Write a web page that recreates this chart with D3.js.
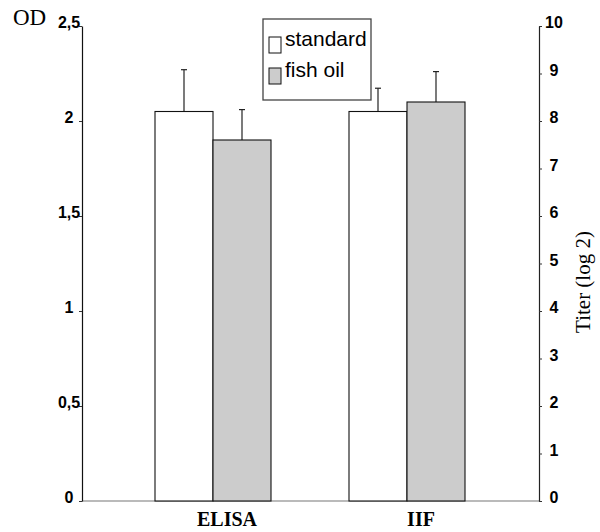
<!DOCTYPE html>
<html>
<head>
<meta charset="utf-8">
<script src="https://cdn.jsdelivr.net/npm/d3@7"></script>
<style>
  html, body { margin: 0; padding: 0; background: #fff; }
  svg { display: block; }
  .tk { font-family: "Liberation Sans", Arial, sans-serif; font-weight: bold; font-size: 16px; fill: #000; }
</style>
</head>
<body>
<script>
// ---- data ----
const categories = ["ELISA", "IIF"];
const seriesNames = ["standard", "fish oil"];
const seriesColors = ["#ffffff", "#cccccc"];
// ELISA read on left axis (OD), IIF read on right axis (Titer log 2)
const standardValues = [2.05, 8.2];
const fishOilValues = [1.90, 8.4];
const standardErrors = [0.22, 0.49];
const fishOilErrors = [0.16, 0.64];
const leftTickValues = [0, 0.5, 1, 1.5, 2, 2.5];
const leftTickLabels = ["0", "0,5", "1", "1,5", "2", "2,5"];
const rightTickValues = [0, 1, 2, 3, 4, 5, 6, 7, 8, 9, 10];
const rightTickLabels = ["0", "1", "2", "3", "4", "5", "6", "7", "8", "9", "10"];

const W = 600, H = 532;
const pL = 82, pR = 539, pT = 26, pB = 501;

const svg = d3.select("body").append("svg").attr("width", W).attr("height", H);

const yL = d3.scaleLinear().domain([0, 2.5]).range([pB, pT]);
const yR = d3.scaleLinear().domain([0, 10]).range([pB, pT]);
const xC = d3.scalePoint().domain(categories).range([213, 407]);
const xS = d3.scaleBand().domain(seriesNames).range([-58, 58]);

// bottom line
svg.append("line").attr("x1", pL).attr("x2", pR).attr("y1", pB).attr("y2", pB)
  .attr("stroke", "#777").attr("stroke-width", 1.2);

// bars
const rows = [];
categories.forEach((c, i) => {
  const sc = i === 0 ? yL : yR;
  rows.push({ cat: c, s: seriesNames[0], v: standardValues[i], e: standardErrors[i], sc, fill: seriesColors[0] });
  rows.push({ cat: c, s: seriesNames[1], v: fishOilValues[i], e: fishOilErrors[i], sc, fill: seriesColors[1] });
});

const g = svg.append("g");
rows.forEach(r => {
  const x0 = xC(r.cat) + xS(r.s);
  const bw = xS.bandwidth();
  const cx = x0 + bw / 2;
  g.append("line").attr("x1", cx).attr("x2", cx)
    .attr("y1", r.sc(r.v)).attr("y2", r.sc(r.v + r.e))
    .attr("stroke", "#222").attr("stroke-width", 1.2);
  g.append("line").attr("x1", cx - 3).attr("x2", cx + 3)
    .attr("y1", r.sc(r.v + r.e)).attr("y2", r.sc(r.v + r.e))
    .attr("stroke", "#222").attr("stroke-width", 1.2);
  g.append("rect").attr("x", x0).attr("y", r.sc(r.v))
    .attr("width", bw).attr("height", pB - r.sc(r.v))
    .attr("fill", r.fill).attr("stroke", "#111").attr("stroke-width", 1.1);
});

// left axis
const axL = svg.append("g").attr("transform", `translate(${pL},0)`)
  .call(d3.axisLeft(yL).tickValues(leftTickValues)
    .tickFormat((d, i) => leftTickLabels[i]).tickSize(3).tickSizeOuter(0));
axL.select(".domain").attr("stroke", "#111").attr("stroke-width", 1.2);
axL.selectAll(".tick line").attr("stroke", "#333");
axL.selectAll(".tick text")
  .attr("class", "tk")
  .attr("x", -13).attr("dy", "0.1em").attr("text-anchor", "middle");

// right axis
const axR = svg.append("g").attr("transform", `translate(${pR},0)`)
  .call(d3.axisRight(yR).tickValues(rightTickValues)
    .tickFormat((d, i) => rightTickLabels[i]).tickSize(3).tickSizeOuter(0));
axR.select(".domain").attr("stroke", "#222").attr("stroke-width", 1.2);
axR.selectAll(".tick line").attr("stroke", "#333");
axR.selectAll(".tick text")
  .attr("class", "tk")
  .attr("x", 15).attr("dy", "0.1em").attr("text-anchor", "middle");

// category labels
svg.selectAll(".cat").data(categories).enter().append("text")
  .attr("x", d => xC(d) + 14).attr("y", 526)
  .attr("text-anchor", "middle")
  .attr("font-family", "Liberation Serif, Times New Roman, serif")
  .attr("font-weight", "bold").attr("font-size", 20)
  .text(d => d);

// axis titles
svg.append("text").attr("x", 13).attr("y", 25)
  .attr("font-family", "Liberation Serif, Times New Roman, serif")
  .attr("font-size", 23).text("OD");
svg.append("text").attr("transform", "translate(590,282) rotate(-90)")
  .attr("text-anchor", "middle")
  .attr("font-family", "Liberation Serif, Times New Roman, serif")
  .attr("font-size", 21).text("Titer (log 2)");

// legend
const lg = svg.append("g");
lg.append("rect").attr("x", 263).attr("y", 19).attr("width", 108).attr("height", 81)
  .attr("fill", "#fff").attr("stroke", "#444").attr("stroke-width", 1.3);
seriesNames.forEach((s, i) => {
  const yy = 37 + i * 31;
  lg.append("rect").attr("x", 269).attr("y", yy).attr("width", 12).attr("height", 16)
    .attr("fill", seriesColors[i]).attr("stroke", "#111").attr("stroke-width", 1);
  lg.append("text").attr("x", 285).attr("y", yy + 9)
    .attr("font-family", "Liberation Sans, Arial, sans-serif")
    .attr("font-size", 21).text(s);
});
</script>
</body>
</html>
